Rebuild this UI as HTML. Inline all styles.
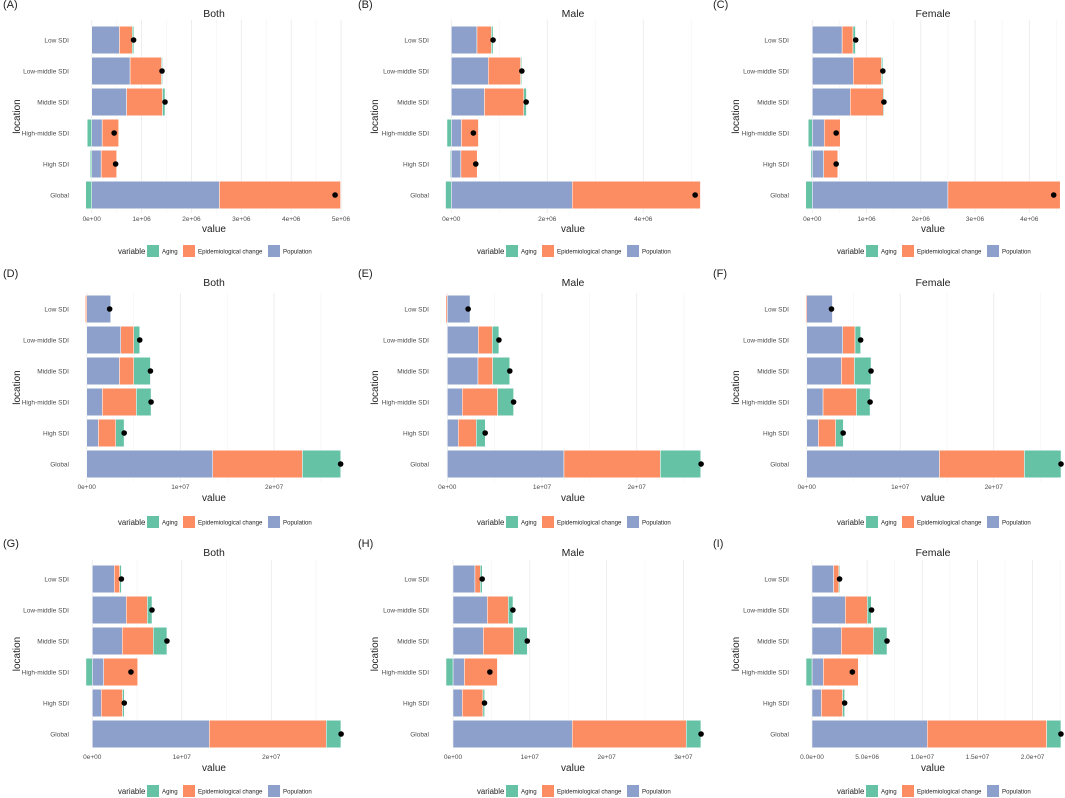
<!DOCTYPE html>
<html><head><meta charset="utf-8"><style>
body{margin:0;background:#fff;}
svg{display:block;font-family:"Liberation Sans",sans-serif;}
</style></head><body>
<svg id="chart" width="1065" height="798" viewBox="0 0 1065 798"></svg>
<script>
const categories = ["Low SDI","Low-middle SDI","Middle SDI","High-middle SDI","High SDI","Global"];
const seriesNames = ["Aging","Epidemiological change","Population"];
// Panel A-C values in 1e6, D-I in 1e7
const popA=[0.555,0.77,0.70,0.21,0.19,2.56], epiA=[0.26,0.63,0.72,0.33,0.31,2.43], agingA=[0.03,0.02,0.05,-0.09,-0.03,-0.12], totalA=[0.84,1.41,1.47,0.45,0.48,4.88];
const popB=[0.535,0.77,0.69,0.21,0.20,2.52], epiB=[0.30,0.675,0.82,0.355,0.34,2.67], agingB=[0.035,0.02,0.055,-0.09,-0.02,-0.12], totalB=[0.87,1.47,1.56,0.46,0.51,5.08];
const popC=[0.55,0.755,0.70,0.22,0.21,2.50], epiC=[0.20,0.52,0.61,0.295,0.26,2.07], agingC=[0.045,0.025,0.015,-0.075,-0.025,-0.12], totalC=[0.80,1.30,1.32,0.44,0.44,4.45];
const popD=[0.256,0.363,0.349,0.167,0.125,1.345], epiD=[-0.014,0.139,0.153,0.363,0.185,0.957], agingD=[0,0.064,0.178,0.157,0.089,0.409], totalD=[0.245,0.566,0.68,0.687,0.40,2.71];
const popE=[0.24,0.327,0.324,0.158,0.116,1.232], epiE=[-0.014,0.148,0.155,0.373,0.19,1.018], agingE=[0,0.07,0.18,0.169,0.095,0.426], totalE=[0.22,0.545,0.66,0.70,0.40,2.68];
const popF=[0.275,0.385,0.371,0.175,0.125,1.419], epiF=[-0.011,0.132,0.139,0.357,0.185,0.909], agingF=[0,0.06,0.178,0.146,0.082,0.392], totalF=[0.265,0.577,0.688,0.678,0.39,2.72];
const popG=[0.246,0.38,0.335,0.127,0.10,1.307], epiG=[0.06,0.235,0.346,0.38,0.238,1.307], agingG=[0.019,0.052,0.153,-0.071,0.019,0.164], totalG=[0.325,0.667,0.834,0.432,0.357,2.78];
const popH=[0.286,0.447,0.395,0.148,0.121,1.553], epiH=[0.069,0.273,0.395,0.43,0.269,1.484], agingH=[0.026,0.061,0.178,-0.091,0.022,0.191], totalH=[0.38,0.78,0.967,0.48,0.41,3.23];
const popI=[0.196,0.302,0.266,0.103,0.085,1.045], epiI=[0.048,0.199,0.29,0.317,0.193,1.082], agingI=[0.009,0.036,0.124,-0.054,0.018,0.13], totalI=[0.25,0.54,0.68,0.366,0.296,2.257];
const ticksA=[0,1,2,3,4,5], tickLabelsA=["0e+00","1e+06","2e+06","3e+06","4e+06","5e+06"];
const ticksB=[0,2,4], tickLabelsB=["0e+00","2e+06","4e+06"];
const ticksC=[0,1,2,3,4], tickLabelsC=["0e+00","1e+06","2e+06","3e+06","4e+06"];
const ticks2=[0,1,2], tickLabels2=["0e+00","1e+07","2e+07"];
const ticksH=[0,1,2,3], tickLabelsH=["0e+00","1e+07","2e+07","3e+07"];
const ticksI=[0,0.5,1,1.5,2], tickLabelsI=["0.0e+00","5.0e+06","1.0e+07","1.5e+07","2.0e+07"];

const colors={Aging:"#66c2a5",Epi:"#fc8d62",Pop:"#8da0cb"};
const rows=[
 {c0:40,title:13,tick:221,val:229,leg:251,gt:20,gb:213},
 {c0:309,title:282,tick:489,val:498,leg:522,gt:293,gb:482},
 {c0:579,title:552,tick:759,val:768,leg:791,gt:560,gb:748}];
const cols=[{off:0,lab:69,loc:20,center:214},{off:355,lab:429,loc:378,center:573},{off:710,lab:789,loc:739,center:933}];
const panels=[
 {L:"A",t:"Both",r:0,c:0,z:91.7,s:49.87,pop:popA,epi:epiA,ag:agingA,tot:totalA,ticks:ticksA,tl:tickLabelsA},
 {L:"B",t:"Male",r:0,c:1,z:451.3,s:48,pop:popB,epi:epiB,ag:agingB,tot:totalB,ticks:ticksB,tl:tickLabelsB},
 {L:"C",t:"Female",r:0,c:2,z:812.3,s:54.25,pop:popC,epi:epiC,ag:agingC,tot:totalC,ticks:ticksC,tl:tickLabelsC},
 {L:"D",t:"Both",r:1,c:0,z:86.7,s:93.7,pop:popD,epi:epiD,ag:agingD,tot:totalD,ticks:ticks2,tl:tickLabels2},
 {L:"E",t:"Male",r:1,c:1,z:447.3,s:94.7,pop:popE,epi:epiE,ag:agingE,tot:totalE,ticks:ticks2,tl:tickLabels2},
 {L:"F",t:"Female",r:1,c:2,z:806.7,s:93.5,pop:popF,epi:epiF,ag:agingF,tot:totalF,ticks:ticks2,tl:tickLabels2},
 {L:"G",t:"Both",r:2,c:0,z:92.3,s:89.5,pop:popG,epi:epiG,ag:agingG,tot:totalG,ticks:ticks2,tl:tickLabels2},
 {L:"H",t:"Male",r:2,c:1,z:453,s:76.8,pop:popH,epi:epiH,ag:agingH,tot:totalH,ticks:ticksH,tl:tickLabelsH},
 {L:"I",t:"Female",r:2,c:2,z:812,s:110.3,pop:popI,epi:epiI,ag:agingI,tot:totalI,ticks:ticksI,tl:tickLabelsI}];
const NS="http://www.w3.org/2000/svg", svg=document.getElementById("chart");
function mk(tag,attrs,parent,text){const e=document.createElementNS(NS,tag);for(const k in attrs)e.setAttribute(k,attrs[k]);if(text!==undefined)e.textContent=text;(parent||svg).appendChild(e);return e;}
const SP=31, BH=27.5;
panels.forEach(p=>{
 const R=rows[p.r], C=cols[p.c];
 const x=v=>p.z+v*p.s, y=i=>R.c0+i*SP;
 const g=mk("g",{});
 
 
 const lt=mk("text",{x:C.off+3,y:R.title-5,"font-size":11,fill:"#222"},g,"("+p.L+")");
 
 
 const tt=mk("text",{x:C.center,y:R.title+4,"font-size":10.5,fill:"#222","text-anchor":"middle"},g,p.t);
 
 
 const step=p.ticks[1]-p.ticks[0];
 const allT=[...p.ticks]; let nx=p.ticks[p.ticks.length-1]+step; if(x(nx)<C.off+352) allT.push(nx);
 allT.forEach(t=>{const m=t+step/2;if(x(m)<C.off+352){const gl=mk("line",{x1:x(m),x2:x(m),y1:R.gt,y2:R.gb,stroke:"#f3f3f3","stroke-width":0.6},g);}});
 p.ticks.forEach((t,i)=>{
  const gl=mk("line",{x1:x(t),x2:x(t),y1:R.gt,y2:R.gb,stroke:"#ebebeb","stroke-width":0.9},g);
  
  
  const tl=mk("text",{x:x(t),y:R.tick,"font-size":6.5,fill:"#4d4d4d","text-anchor":"middle"},g,p.tl[i]);
  
  
 });
 categories.forEach((cat,i)=>{
  const cl=mk("text",{x:C.lab,y:y(i)+2.5,"font-size":6.5,fill:"#4d4d4d","text-anchor":"end"},g,cat);
  
  
  let pos=0,neg=0;
  [["Pop",p.pop[i]],["Epi",p.epi[i]],["Aging",p.ag[i]]].forEach(([k,v])=>{
   if(!v)return; let a,b;
   if(v>0){a=pos;b=pos+v;pos=b;}else{a=neg+v;b=neg;neg=a;}
   const r=mk("rect",{x:x(a),y:y(i)-BH/2,width:Math.max(0.5,x(b)-x(a)),height:BH,fill:colors[k],stroke:"#fff","stroke-width":0.5},g);
   
   
  });
  const d=mk("circle",{cx:x(p.tot[i]),cy:y(i),r:2.8,fill:"#000"},g);
  
  
 });
 const vt=mk("text",{x:C.center,y:R.val+3,"font-size":10,fill:"#222","text-anchor":"middle"},g,"value");
 
 
 const yc=(R.gt+R.gb)/2;
 const lo=mk("text",{x:C.loc,y:yc,"font-size":10,fill:"#222","text-anchor":"middle",transform:`rotate(-90 ${C.loc} ${yc})`},g,"location");
 
 
 const lx=C.center-96, ly=R.leg;
 const lg=mk("g",{},g);
 
 
 mk("text",{x:lx,y:ly+3,"font-size":7.8,fill:"#222"},lg,"variable");
 const items=[["Aging",colors.Aging,lx+29,"Aging"],["Epi",colors.Epi,lx+65,"Epidemiological change"],["Pop",colors.Pop,lx+150,"Population"]];
 items.forEach(([k,col,ix,lab])=>{
  const e=mk("g",{},lg);
  
  
  mk("rect",{x:ix,y:ly-6,width:12,height:12,fill:col},e);
  mk("text",{x:ix+15,y:ly+2.5,"font-size":6.1,fill:"#222"},e,lab);
 });
});
</script>
</body></html>
